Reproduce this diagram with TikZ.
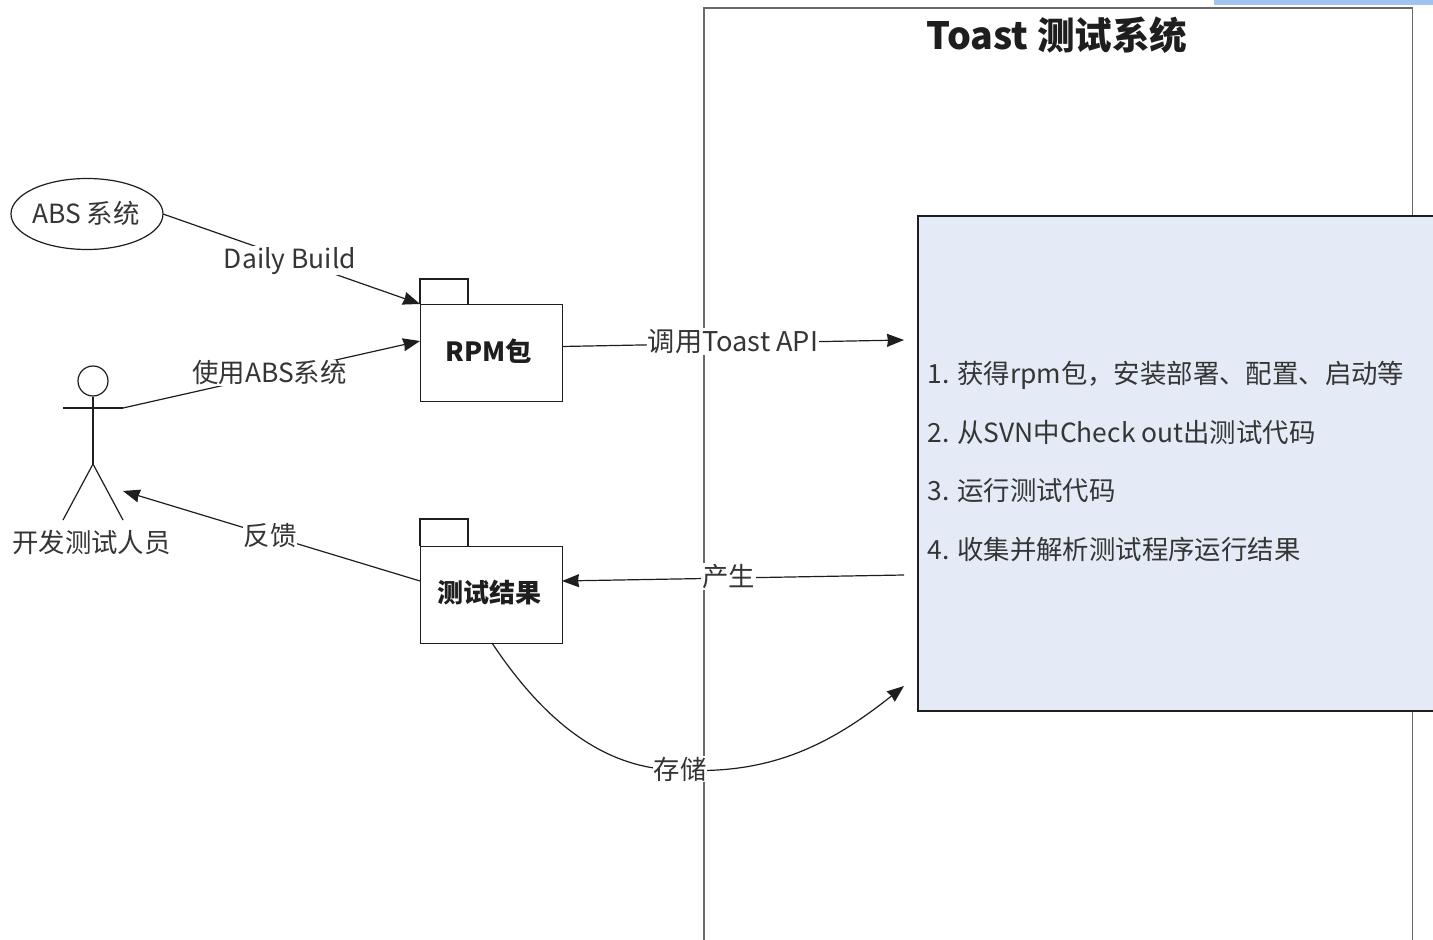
\documentclass[tikz,border=0pt]{standalone}
\usepackage{fontspec}
\setmainfont{DejaVu Sans}
\newfontfamily\cjk{Noto Sans CJK SC}
\usetikzlibrary{arrows.meta,shapes.geometric}
\definecolor{panel}{RGB}{228,235,246}
\definecolor{topbar}{RGB}{160,195,240}
\definecolor{ink}{RGB}{30,30,30}
\definecolor{framegray}{RGB}{105,105,105}
\tikzset{
  x=0.5pt,y=-0.5pt,
  line/.style={draw=ink,line width=0.6pt},
  frameline/.style={draw=framegray,line width=0.8pt},
  conn/.style={line,-{Stealth[length=8.5pt,width=6.5pt,inset=0.5pt]}},
  lab/.style={font=\fontsize{13.2pt}{15pt}\selectfont\cjk,text=ink!90!white,inner sep=0.5pt},
  whitelab/.style={lab,fill=white},
  pkg/.style={line,fill=white},
  boldlab/.style={lab,text=ink,font=\fontsize{13.2pt}{15pt}\selectfont\bfseries\cjk},
  item/.style={lab,anchor=west}
}
\begin{document}
\begin{tikzpicture}
\useasboundingbox (0,0) rectangle (1433,940);
\fill[white] (0,0) rectangle (1433,940);
\fill[topbar] (1214,0) rectangle (1433,5);
\draw[frameline] (704,940) -- (704,8) -- (1412.5,8) -- (1412.5,940);
\node[boldlab,font=\fontsize{18.8pt}{21pt}\selectfont\bfseries\cjk] (title) at (1057,35) {Toast 测试系统};
\fill[panel] (918,216) rectangle (1433,711);
\draw[line] (1433,216) -- (918,216) -- (918,711) -- (1433,711);
\node[item] (s1) at (926,375) {1. 获得rpm包，安装部署、配置、启动等};
\node[item] (s2) at (926,432) {2. 从SVN中Check out出测试代码};
\node[item] (s3) at (926,491) {3. 运行测试代码};
\node[item] (s4) at (926,549.5) {4. 收集并解析测试程序运行结果};
\node[line,ellipse,minimum width=76pt,minimum height=35.5pt,inner sep=0pt] (abs) at (87,214) {};
\node[lab] at (86,213) {ABS 系统};
% packages
\draw[pkg] (420,304) -- (420,279) -- (468,279) -- (468,304);
\node[pkg,minimum width=71pt,minimum height=48.5pt,inner sep=0pt,anchor=north west] (rpm) at (420,304) {};
\node[boldlab] (rpmlab) at (489,351) {RPM包};
\draw[pkg] (420,546) -- (420,519) -- (468,519) -- (468,546);
\node[pkg,minimum width=71pt,minimum height=48.5pt,inner sep=0pt,anchor=north west] (res) at (420,546) {};
\node[boldlab,font=\fontsize{13pt}{15pt}\selectfont\bfseries\cjk] (reslab) at (489,593) {测试结果};
% actor
\node[line,circle,minimum size=15pt,inner sep=0pt] (head) at (93,381) {};
\coordinate (hip) at (93,464);
\coordinate (armL) at (63,408);
\coordinate (armR) at (123,408);
\coordinate (footL) at (63,520);
\coordinate (footR) at (123,520);
\draw[line] (head) -- (hip);
\draw[line] (armL) -- (armR);
\draw[line] (footL) -- (hip) -- (footR);
\node[lab] (actor) at (91.5,542) {开发测试人员};
% connectors
\coordinate (c1) at (420,304);
\coordinate (c2) at (420,341);
\coordinate (c3) at (904,340);
\coordinate (c4) at (904,575);
\coordinate (c5) at (123,491);
\coordinate (c6) at (904,686);
\draw[conn] (163,214) -- (c1) node[whitelab,pos=0.494,yshift=-1.2pt,inner xsep=2pt] {Daily Build};
\draw[conn] (armR) -- (c2) node[whitelab,pos=0.49,yshift=1.2pt,xshift=0.5pt] {使用ABS系统};
\draw[conn] (562,346.5) -- (c3) node[whitelab,pos=0.50,yshift=0.8pt,font=\fontsize{13.6pt}{15pt}\selectfont\cjk] {调用Toast API};
\draw[conn] (c4) -- (562,581) node[whitelab,pos=0.51,yshift=0.8pt,xshift=-0.5pt] {产生};
\draw[conn] (420,581) -- (c5) node[whitelab,pos=0.505] {反馈};
\draw[line] (492,643) .. controls (540,715) and (600,770) .. (680,770);
\draw[conn] (680,770) .. controls (770,775) and (830,745) .. (c6);
\node[whitelab] (store) at (680,769) {存储};
\end{tikzpicture}
\end{document}
